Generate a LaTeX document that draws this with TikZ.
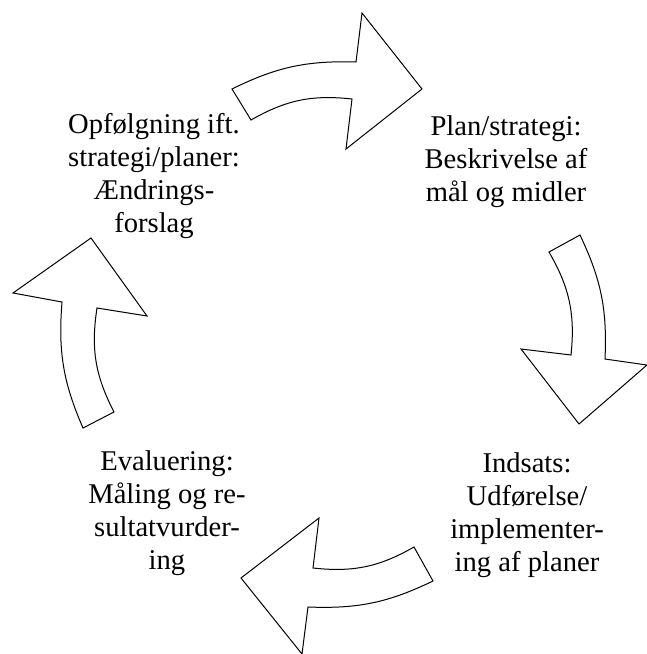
\documentclass[tikz,border=0pt]{standalone}
\usepackage{fontspec}
\setmainfont{Liberation Serif}
\usepackage{tikz}
\usetikzlibrary{positioning}

\tikzset{
  trin/.style={align=center, inner sep=0pt, anchor=base, font=\fontsize{14.3}{16.4}\selectfont},
  blokpil/.style={draw, line width=0.5pt, fill=white, line join=miter}
}

\begin{document}
\begin{tikzpicture}[x=0.5pt, y=-0.5pt]
      \useasboundingbox (0,0) rectangle (647,654);

      % Four block arrows around the cycle
      \draw[blokpil] (232,89) to[bend left=14] (356,62) -- (362,13) -- (422,89) -- (346,149) -- (352,99) to[bend right=18] (251,120) -- cycle;
      \draw[blokpil] (549,252) to[bend left=18] (571,355) -- (521,349) -- (579,424) -- (647,365) -- (605,359) to[bend right=14] (580,235) -- cycle;
      \draw[blokpil] (414,547) to[bend left=18] (313,568) -- (319,518) -- (241,578) -- (302,654) -- (308,607) to[bend right=14] (433,581) -- cycle;
      \draw[blokpil] (83,428) to[bend left=14] (62,302) -- (13,293) -- (91,238) -- (147,316) -- (97,308) to[bend right=18] (114,412) -- cycle;

      % The four steps (anchored at the last line)
      \node[trin] (opfoelgning) at (154,232) {Opfølgning ift.\\strategi/planer:\\Ændrings-\\forslag};
      \node[trin] (plan) at (506,201) {Plan/strategi:\\Beskrivelse af\\mål og midler};
      \node[trin] (indsats) at (527,571) {Indsats:\\Udførelse/\\implementer-\\ing af planer};
      \node[trin] (evaluering) at (167,569) {Evaluering:\\Måling og re-\\sultatvurder-\\ing};
\end{tikzpicture}
\end{document}
